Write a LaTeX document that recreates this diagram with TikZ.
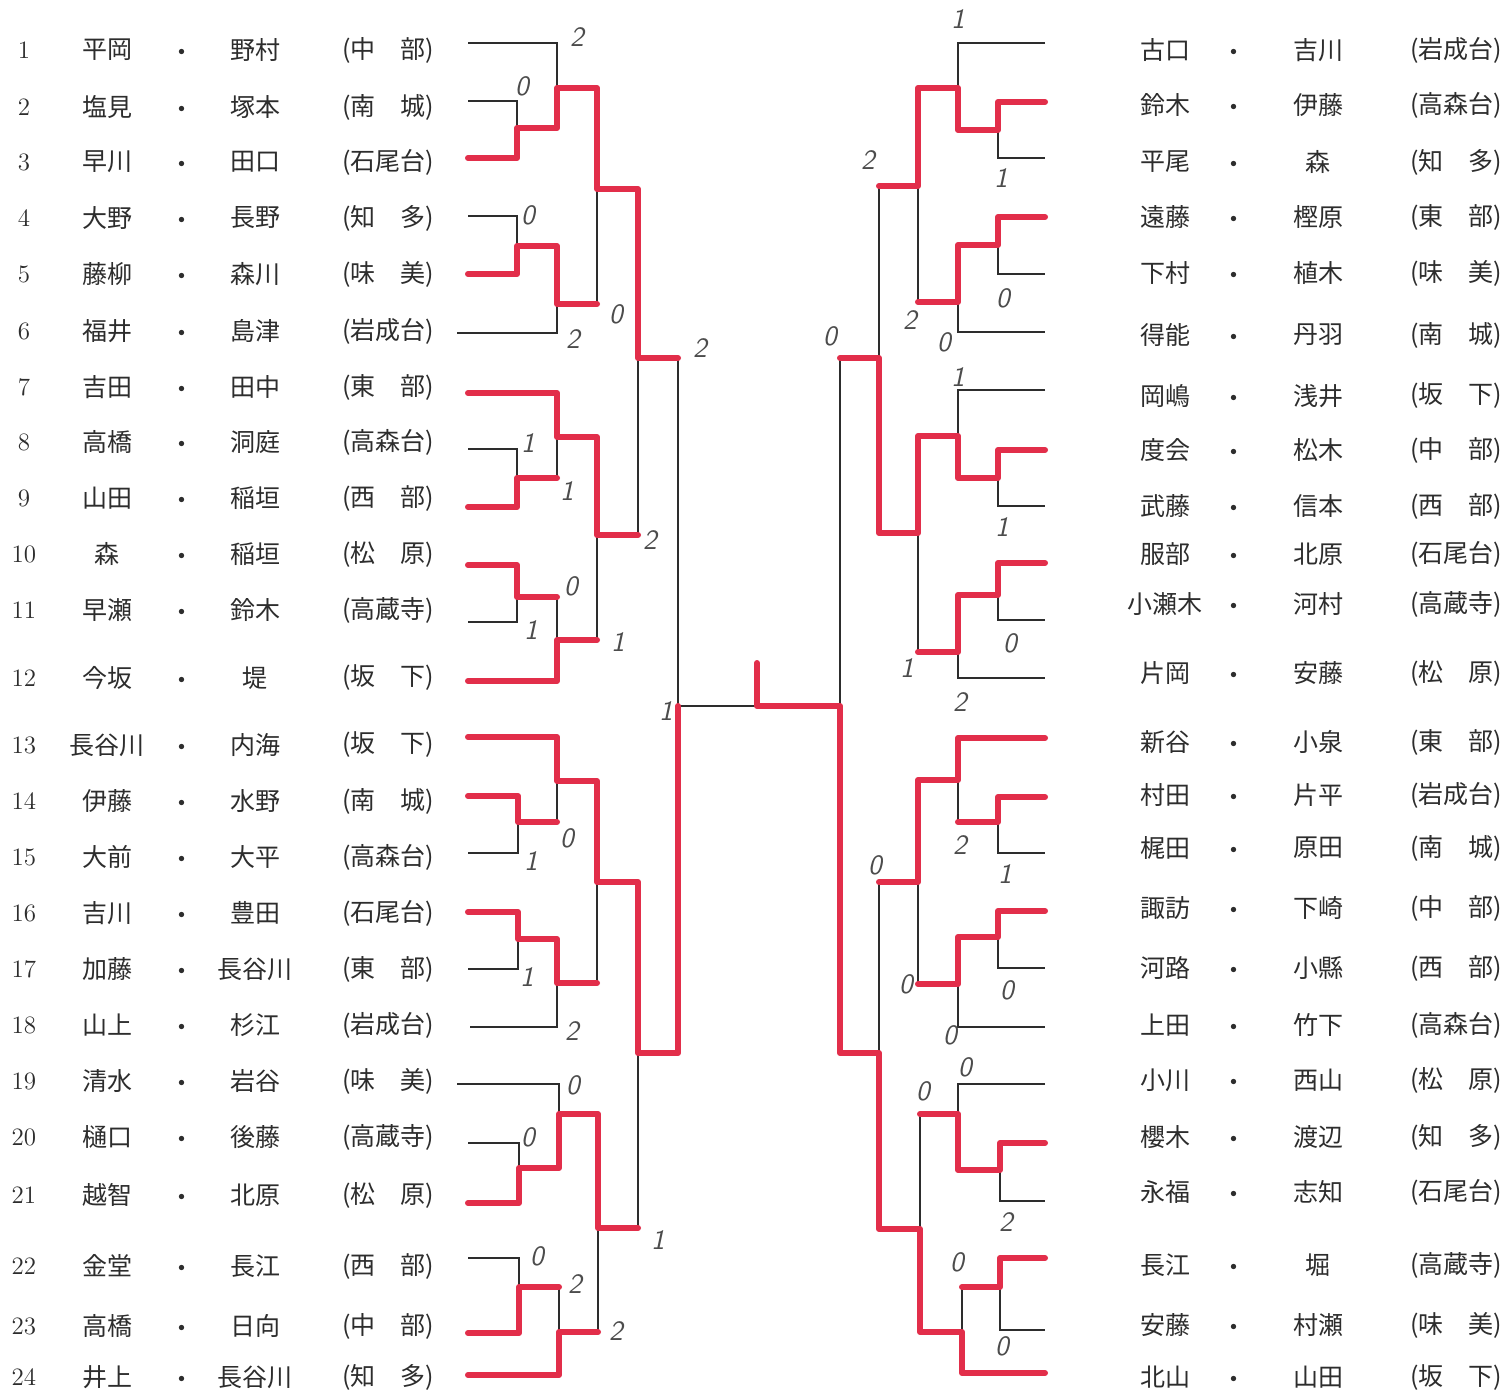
\documentclass[tikz,border=0pt]{standalone}
\usepackage{fontspec}
\newfontfamily\jfont{Noto Sans CJK JP}
\definecolor{pen}{RGB}{226,46,74}
\definecolor{ink}{RGB}{45,45,45}

\begin{document}
\begin{tikzpicture}[x=0.5pt, y=-0.5pt,
        line/.style={line width=0.6pt, ink},
        win/.style={line width=3pt, pen, line join=round, line cap=round},
        team/.style={inner sep=0pt, text=ink, font=\jfont\fontsize{12.5}{12.5}\selectfont},
        num/.style={inner sep=0pt, text=ink, font=\fontsize{12.5}{12.5}\selectfont},
        score/.style={inner sep=0pt, text=ink!85, font=\sffamily\itshape\fontsize{14}{14}\selectfont}]
        \useasboundingbox[fill=white] (0,0) rectangle (1508,1390);

        \foreach \n/\y/\p/\q/\s in {1/50/平岡/野村/中　部, 2/107/塩見/塚本/南　城, 3/162/早川/田口/石尾台,
            4/218/大野/長野/知　多, 5/274/藤柳/森川/味　美, 6/331/福井/島津/岩成台,
            7/387/吉田/田中/東　部, 8/442/高橋/洞庭/高森台, 9/498/山田/稲垣/西　部,
            10/554/森/稲垣/松　原, 11/610/早瀬/鈴木/高蔵寺, 12/678/今坂/堤/坂　下,
            13/745/長谷川/内海/坂　下, 14/801/伊藤/水野/南　城, 15/857/大前/大平/高森台,
            16/913/吉川/豊田/石尾台, 17/969/加藤/長谷川/東　部, 18/1025/山上/杉江/岩成台,
            19/1081/清水/岩谷/味　美, 20/1137/樋口/後藤/高蔵寺, 21/1195/越智/北原/松　原,
            22/1266/金堂/長江/西　部, 23/1326/高橋/日向/中　部, 24/1377/井上/長谷川/知　多} {
            \node[num] (num\n) at (24,\y) {\n};
            \node[team] (lp\n) at (107,\y) {\p};
            \node[team] (ld\n) at (182,\y+5) {・};
            \node[team] (lq\n) at (255,\y) {\q};
            \node[team] (ls\n) at (388,\y) {(\s)};
        }
        \foreach \n/\y/\p/\q/\s in {1/50/古口/吉川/岩成台, 2/105/鈴木/伊藤/高森台, 3/162/平尾/森/知　多,
            4/217/遠藤/樫原/東　部, 5/273/下村/植木/味　美, 6/335/得能/丹羽/南　城,
            7/396/岡嶋/浅井/坂　下, 8/450/度会/松木/中　部, 9/506/武藤/信本/西　部,
            10/554/服部/北原/石尾台, 11/604/小瀬木/河村/高蔵寺, 12/673/片岡/安藤/松　原,
            13/742/新谷/小泉/東　部, 14/795/村田/片平/岩成台, 15/848/梶田/原田/南　城,
            16/908/諏訪/下崎/中　部, 17/968/河路/小縣/西　部, 18/1025/上田/竹下/高森台,
            19/1080/小川/西山/松　原, 20/1137/櫻木/渡辺/知　多, 21/1192/永福/志知/石尾台,
            22/1265/長江/堀/高蔵寺, 23/1325/安藤/村瀬/味　美, 24/1377/北山/山田/坂　下} {
            \node[team] (rp\n) at (1165,\y) {\p};
            \node[team] (rd\n) at (1234,\y+5) {・};
            \node[team] (rq\n) at (1318,\y) {\q};
            \node[team] (rs\n) at (1456,\y) {(\s)};
        }

        % left half
        \draw[line] (468,43) -- (557,43) -- (557,128);
        \draw[line] (468,101) -- (517,101) -- (517,158) -- (468,158);
        \draw[line] (517,128) -- (557,128);
        \draw[line] (557,88) -- (597,88);
        \draw[line] (468,216) -- (517,216) -- (517,274) -- (468,274);
        \draw[line] (517,246) -- (557,246) -- (557,333) -- (457,333);
        \draw[line] (557,304) -- (597,304);
        \draw[line] (597,88) -- (597,304);
        \draw[line] (597,189) -- (638,189);
        \draw[line] (468,393) -- (557,393) -- (557,478);
        \draw[line] (468,449) -- (517,449) -- (517,507) -- (468,507);
        \draw[line] (517,478) -- (557,478);
        \draw[line] (557,437) -- (597,437);
        \draw[line] (468,565) -- (517,565) -- (517,622) -- (468,622);
        \draw[line] (517,597) -- (557,597) -- (557,681) -- (468,681);
        \draw[line] (557,640) -- (597,640);
        \draw[line] (597,437) -- (597,640);
        \draw[line] (597,535) -- (638,535);
        \draw[line] (638,189) -- (638,535);
        \draw[line] (638,358) -- (678,358);
        \draw[line] (468,737) -- (557,737) -- (557,822);
        \draw[line] (468,796) -- (518,796) -- (518,853) -- (468,853);
        \draw[line] (518,822) -- (557,822);
        \draw[line] (557,781) -- (597,781);
        \draw[line] (468,912) -- (518,912) -- (518,969) -- (468,969);
        \draw[line] (518,939) -- (557,939) -- (557,1027) -- (470,1027);
        \draw[line] (557,983) -- (597,983);
        \draw[line] (597,781) -- (597,983);
        \draw[line] (597,882) -- (638,882);
        \draw[line] (457,1084) -- (559,1084) -- (559,1168);
        \draw[line] (468,1143) -- (519,1143) -- (519,1203) -- (468,1203);
        \draw[line] (519,1168) -- (559,1168);
        \draw[line] (559,1114) -- (598,1114);
        \draw[line] (468,1258) -- (519,1258) -- (519,1333) -- (468,1333);
        \draw[line] (519,1287) -- (559,1287) -- (559,1375) -- (468,1375);
        \draw[line] (559,1332) -- (598,1332);
        \draw[line] (598,1114) -- (598,1332);
        \draw[line] (598,1228) -- (638,1228);
        \draw[line] (638,882) -- (638,1228);
        \draw[line] (638,1053) -- (678,1053);
        \draw[line] (678,358) -- (678,1053);
        \draw[line] (678,706) -- (840,706);

        % right half
        \draw[line] (1045,43) -- (958,43) -- (958,130);
        \draw[line] (1045,102) -- (998,102) -- (998,158) -- (1045,158);
        \draw[line] (998,130) -- (958,130);
        \draw[line] (958,88) -- (918,88);
        \draw[line] (1045,217) -- (998,217) -- (998,274) -- (1045,274);
        \draw[line] (998,245) -- (958,245) -- (958,332) -- (1045,332);
        \draw[line] (958,302) -- (918,302);
        \draw[line] (918,88) -- (918,302);
        \draw[line] (918,186) -- (879,186);
        \draw[line] (1045,390) -- (958,390) -- (958,478);
        \draw[line] (1045,450) -- (998,450) -- (998,506) -- (1045,506);
        \draw[line] (998,478) -- (958,478);
        \draw[line] (958,436) -- (918,436);
        \draw[line] (1045,563) -- (998,563) -- (998,620) -- (1045,620);
        \draw[line] (998,595) -- (958,595) -- (958,678) -- (1045,678);
        \draw[line] (958,652) -- (918,652);
        \draw[line] (918,436) -- (918,652);
        \draw[line] (918,533) -- (879,533);
        \draw[line] (879,186) -- (879,533);
        \draw[line] (879,358) -- (840,358);
        \draw[line] (1045,738) -- (958,738) -- (958,822);
        \draw[line] (1045,797) -- (998,797) -- (998,853) -- (1045,853);
        \draw[line] (998,822) -- (958,822);
        \draw[line] (958,780) -- (918,780);
        \draw[line] (1045,911) -- (998,911) -- (998,968) -- (1045,968);
        \draw[line] (998,937) -- (958,937) -- (958,1027) -- (1045,1027);
        \draw[line] (958,984) -- (918,984);
        \draw[line] (918,780) -- (918,984);
        \draw[line] (918,882) -- (879,882);
        \draw[line] (1045,1084) -- (958,1084) -- (958,1170);
        \draw[line] (1045,1143) -- (1000,1143) -- (1000,1201) -- (1045,1201);
        \draw[line] (1000,1170) -- (958,1170);
        \draw[line] (958,1114) -- (920,1114);
        \draw[line] (1045,1258) -- (1000,1258) -- (1000,1330) -- (1045,1330);
        \draw[line] (1000,1287) -- (962,1287) -- (962,1373) -- (1045,1373);
        \draw[line] (962,1332) -- (920,1332);
        \draw[line] (920,1114) -- (920,1332);
        \draw[line] (920,1229) -- (879,1229);
        \draw[line] (879,882) -- (879,1229);
        \draw[line] (879,1053) -- (840,1053);
        \draw[line] (840,358) -- (840,1053);

        % winners
        \draw[win] (468,158) -- (517,158) -- (517,128) -- (557,128) -- (557,88) -- (597,88) -- (597,189) -- (638,189) -- (638,358) -- (678,358);
        \draw[win] (468,274) -- (517,274) -- (517,246) -- (557,246) -- (557,304) -- (597,304);
        \draw[win] (468,393) -- (557,393) -- (557,437) -- (597,437) -- (597,535) -- (638,535);
        \draw[win] (468,507) -- (517,507) -- (517,478) -- (557,478);
        \draw[win] (468,565) -- (517,565) -- (517,597) -- (557,597);
        \draw[win] (468,681) -- (557,681) -- (557,640) -- (597,640);
        \draw[win] (468,737) -- (557,737) -- (557,781) -- (597,781) -- (597,882) -- (638,882) -- (638,1053) -- (678,1053) -- (678,706);
        \draw[win] (468,796) -- (518,796) -- (518,822) -- (557,822);
        \draw[win] (468,912) -- (518,912) -- (518,939) -- (557,939) -- (557,983) -- (597,983);
        \draw[win] (468,1203) -- (519,1203) -- (519,1168) -- (559,1168) -- (559,1114) -- (598,1114) -- (598,1228) -- (638,1228);
        \draw[win] (468,1333) -- (519,1333) -- (519,1287) -- (559,1287);
        \draw[win] (468,1375) -- (559,1375) -- (559,1332) -- (598,1332);
        \draw[win] (1045,102) -- (998,102) -- (998,130) -- (958,130) -- (958,88) -- (918,88) -- (918,186) -- (879,186);
        \draw[win] (1045,217) -- (998,217) -- (998,245) -- (958,245) -- (958,302) -- (918,302);
        \draw[win] (1045,450) -- (998,450) -- (998,478) -- (958,478) -- (958,436) -- (918,436) -- (918,533) -- (879,533) -- (879,358) -- (840,358);
        \draw[win] (1045,563) -- (998,563) -- (998,595) -- (958,595) -- (958,652) -- (918,652);
        \draw[win] (1045,738) -- (958,738) -- (958,780) -- (918,780) -- (918,882) -- (879,882);
        \draw[win] (1045,797) -- (998,797) -- (998,822) -- (958,822);
        \draw[win] (1045,911) -- (998,911) -- (998,937) -- (958,937) -- (958,984) -- (918,984);
        \draw[win] (1045,1143) -- (1000,1143) -- (1000,1170) -- (958,1170) -- (958,1114) -- (920,1114);
        \draw[win] (1045,1258) -- (1000,1258) -- (1000,1287) -- (962,1287);
        \draw[win] (1045,1373) -- (962,1373) -- (962,1332) -- (920,1332) -- (920,1229) -- (879,1229) -- (879,1053) -- (840,1053) -- (840,706) -- (757,706) -- (757,663);

        % scores
        \foreach \x/\y/\t [count=\k] in {577/37/2, 522/86/0, 528/215/0, 616/314/0, 573/339/2, 700/348/2,
            528/443/1, 567/491/1, 650/540/2, 571/586/0, 531/630/1, 618/642/1, 666/711/1,
            567/838/0, 531/861/1, 527/977/1, 572/1031/2, 573/1085/0, 528/1137/0, 658/1240/1,
            537/1256/0, 575/1284/2, 616/1331/2} {
            \node[score] (ls-\k) at (\x,\y) {\t};
        }
        \foreach \x/\y/\t [count=\k] in {958/19/1, 868/160/2, 1001/178/1, 1003/298/0, 910/320/2, 944/342/0,
            830/336/0, 958/377/1, 1002/527/1, 1010/643/0, 907/668/1, 960/702/2, 960/845/2,
            875/865/0, 1005/874/1, 906/984/0, 1007/990/0, 950/1035/0, 965/1067/0, 923/1091/0,
            1006/1222/2, 957/1262/0, 1002/1346/0} {
            \node[score] (rs-\k) at (\x,\y) {\t};
        }
\end{tikzpicture}
\end{document}
